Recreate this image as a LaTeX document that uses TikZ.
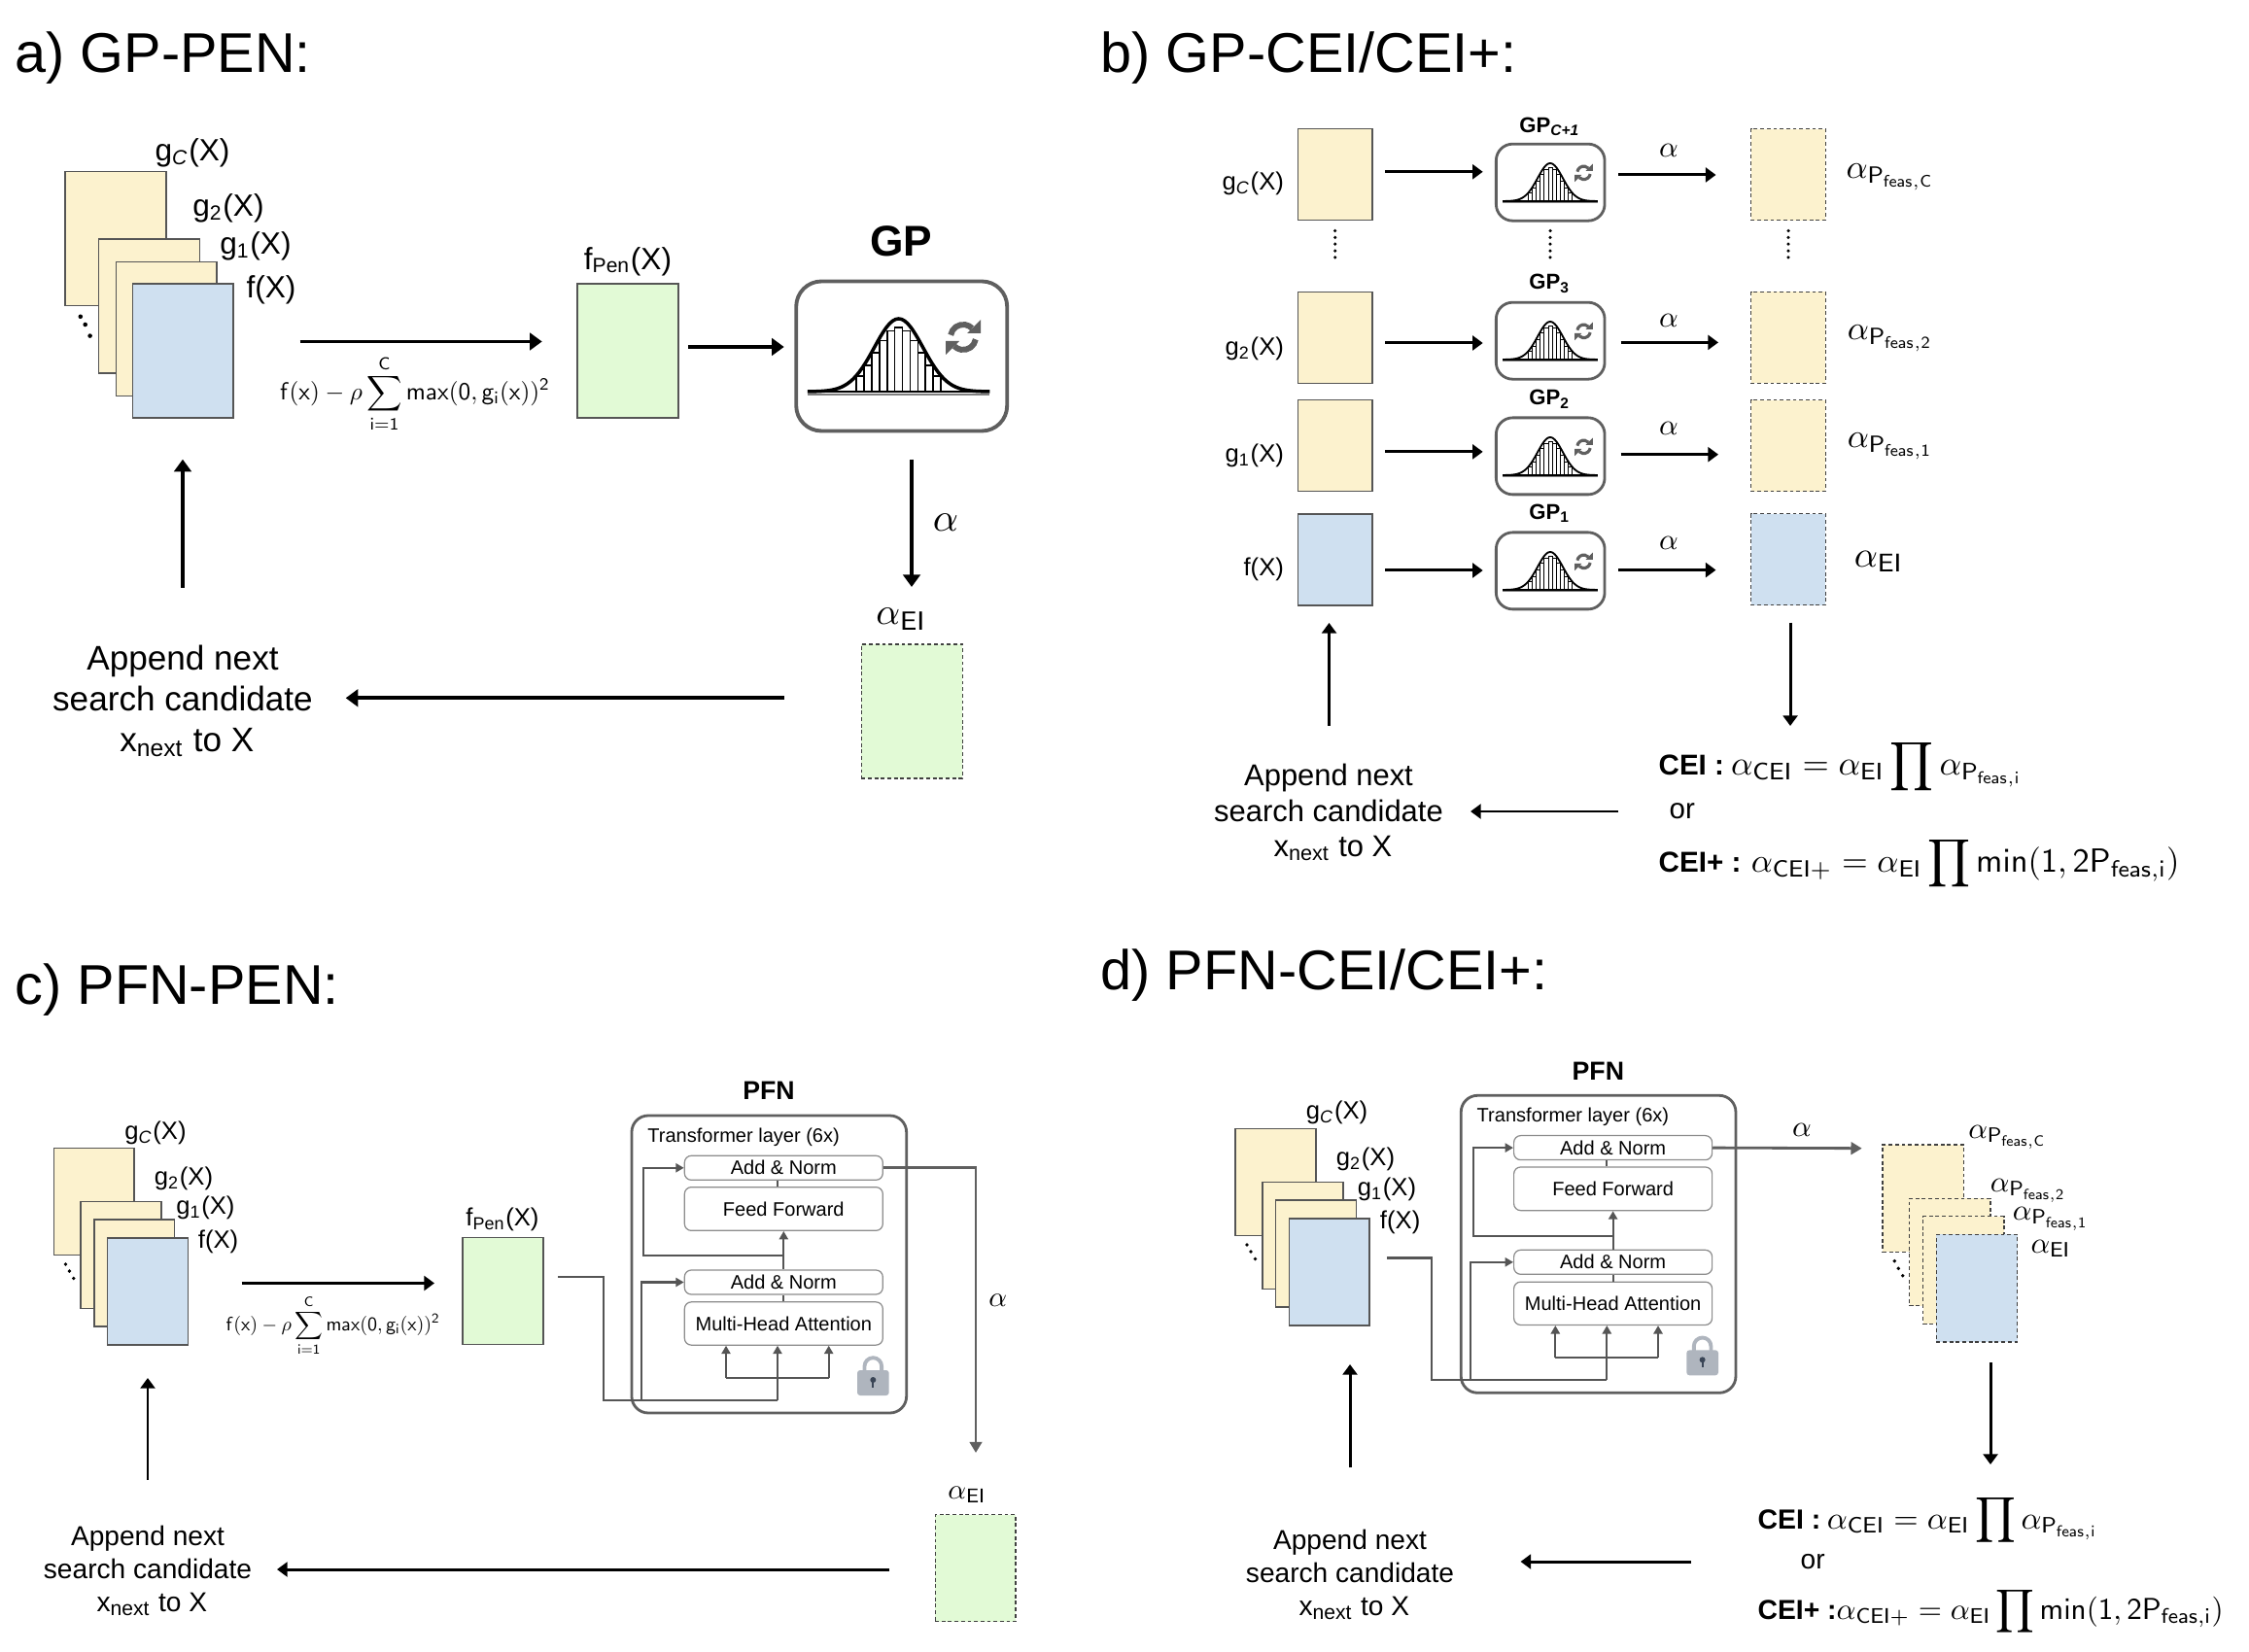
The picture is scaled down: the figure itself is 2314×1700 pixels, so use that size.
\documentclass[tikz,border=0pt]{standalone}
\usepackage[no-math]{fontspec}
\setmainfont{Liberation Sans}
\usetikzlibrary{arrows.meta}

\definecolor{cyel}{HTML}{FCF2CE}
\definecolor{cblu}{HTML}{CFE0F0}
\definecolor{cgrn}{HTML}{E2FAD6}
\definecolor{clin}{HTML}{555555}
\definecolor{cgry}{HTML}{5F5F5F}
\definecolor{clok}{HTML}{AFB5BE}
\definecolor{ckey}{HTML}{3A4556}

\newcommand\aEI{\alpha_{\mathsf{EI}}}
\newcommand\aPf[1]{\alpha_{\mathsf{P}_{\mathsf{feas},\mathsf{#1}}}}
\newcommand\penform{$\displaystyle\mathsf{f}(\mathsf{x})-\rho\sum_{\mathsf{i}=\mathsf{1}}^{\mathsf{C}}\mathsf{max}(\mathsf{0},\mathsf{g}_{\mathsf{i}}(\mathsf{x}))^{\mathsf{2}}$}
\newcommand\boldpt{\fontsize{8.7}{10}\selectfont\bfseries}
\newcommand\appendtxt{Append next\\search candidate\\\hspace*{2.5pt}x\textsubscript{next} to X}

\tikzset{
  ptitle/.style={font=\fontsize{16.4}{19}\selectfont,anchor=base west,inner sep=0},
  lab/.style={font=\fontsize{#1}{#1}\selectfont,inner sep=0},
  para/.style 2 args={font=\fontsize{#1}{#2}\selectfont,align=center,inner sep=0},
  mlab/.style={scale=#1,inner sep=0},
  ceiform/.style={scale=#1,anchor=base west,inner sep=0},
  sheeta/.style={draw=clin,line width=.45pt,inner sep=0,minimum width=10.38mm,minimum height=13.8mm},
  sheetb/.style={draw=clin,line width=.45pt,inner sep=0,minimum width=7.66mm,minimum height=9.4mm},
  sheetc/.style={draw=clin,line width=.45pt,inner sep=0,minimum width=8.28mm,minimum height=11mm},
  dsh/.style={draw=black!75,line width=.35pt,dash pattern=on 1.1pt off .8pt},
  arra/.style={line width=1.1pt,-{Triangle[length=3.6pt,width=5pt]}},
  arrb/.style={line width=.85pt,-{Triangle[length=3pt,width=4.2pt]}},
  arrg/.style={draw=cgry,line width=.8pt,-{Triangle[length=3.2pt,width=3.6pt]}},
  inner/.style={draw=clin,line width=.6pt,-{Triangle[length=2.4pt,width=2.6pt]}},
  lnk/.style={draw=clin,line width=.6pt},
  gpbox/.style={draw=cgry,rounded corners=1.7mm,inner sep=0,line width=.8pt,minimum width=11.17mm,minimum height=7.9mm},
  laybox/.style={draw=black!45,line width=.35pt,rounded corners=.7mm,inner sep=0,minimum width=20.4mm,font=\fontsize{5.7}{6}\selectfont},
  vdots/.style={line width=1pt,line cap=round,dash pattern=on 0pt off 1.95pt},
  pics/gausshist/.style={code={
    \begin{scope}[scale=#1]
    \foreach \k in {-5,...,5} {
      \pgfmathsetmacro\bh{66*exp(0-(\k*\k*62)/1100)}
      \draw[line width=#1*.45pt] (\k*7.9-3.95,0) rectangle (\k*7.9+3.95,-\bh);
    }
    \draw[line width=#1*1pt] plot[domain=-93.7:93.7,samples=61] (\x,{-75*exp(0-(\x*\x)/1250)});
    \draw[line width=#1*.8pt] (-93.7,0)--(93.7,0);
    \draw[gray,line width=.3pt] (-93.7,3)--(93.7,3);
    % sync mark
    \draw[cgry,line width=#1*1.7pt] (66.4,-56) ++(-170:13) arc(-170:-45:13);
    \fill[cgry] (84.4,-74) -- (84.4,-60) -- (70.4,-60) -- cycle;
    \draw[cgry,line width=#1*1.7pt] (66.4,-56) ++(10:13) arc(10:135:13);
    \fill[cgry] (48.4,-38) -- (48.4,-52) -- (62.4,-52) -- cycle;
    \end{scope}
  }},
  pics/pfnblock/.style={code={
    \node[font=\fontsize{7.6}{9}\selectfont\bfseries,inner sep=0] (head) at (141,-25.3) {PFN};
    \node[draw=cgry,line width=.8pt,rounded corners=1.7mm,minimum width=28.27mm,minimum height=30.6mm] (outer) at (141.3,153) {};
    \node[font=\fontsize{5.7}{6}\selectfont,anchor=west,inner sep=0] (tlayer) at (15.7,22) {Transformer layer (6x)};
    \node[laybox,minimum height=2.5mm] (add1) at (156.3,53.8) {Add \& Norm};
    \node[laybox,minimum height=4.47mm] (ff) at (156.3,96) {Feed Forward};
    \node[laybox,minimum height=2.5mm] (add2) at (156.3,171.5) {Add \& Norm};
    \node[laybox,minimum height=4.43mm] (mha) at (156.3,214) {Multi-Head Attention};
    \coordinate (inl) at (97,270);
    \coordinate (inm) at (150,292.7);
    \coordinate (inr) at (202.7,270);
    \coordinate (bri) at (10,292.7);
    \coordinate (brk) at (156.3,144.3);
    \coordinate (brl) at (12.3,144.3);
    \draw[lnk] (mha.north) -- (add2.south);
    \draw[lnk] (inm |- ff.north) -- (inm |- add1.south);
    \draw[inner] (add2.north) -- (ff.south);
    \draw[inner] (brk) -- (brl) |- (add1.west);
    \draw[inner] (bri) |- (add2.west);
    \draw[inner] (inm) -- (inm |- mha.south);
    \draw[lnk] (inl) -- (inr);
    \draw[inner] (inl) -- (inl |- mha.south);
    \draw[inner] (inr) -- (inr |- mha.south);
    % lock
    \draw[clok,line width=1.1pt] (239.5,264) -- (239.5,258) arc(180:360:8.8) -- (257.1,264);
    \fill[clok,rounded corners=.3mm] (232,262) rectangle (264.7,288);
    \fill[ckey] (248.3,272) circle (3);
    \fill[ckey] (247.2,272) rectangle (249.4,279.5);
  }}
}

\begin{document}
\begin{tikzpicture}[x=.1mm,y=-.1mm]
\useasboundingbox (0,0) rectangle (2314,1700);

% panel a
\node[ptitle] (atitle) at (15,75) {a) GP-PEN:};
\node[sheeta,fill=cyel] (agc) at (118.9,245.7) {};
\node[sheeta,fill=cyel] (ag2) at (153.6,315.1) {};
\node[sheeta,fill=cyel] (ag1) at (171.2,338.4) {};
\node[sheeta,fill=cblu] (af) at (188.3,361.2) {};
\node[lab=9] (agcl) at (198,157.4) {g\textsubscript{\textit{C}}(X)};
\node[lab=9] (ag2l) at (235,214.8) {g\textsubscript{2}(X)};
\node[lab=9] (ag1l) at (263,253.8) {g\textsubscript{1}(X)};
\node[lab=9] (afl) at (279,298.3) {f(X)};
\fill (82.8,325.8) circle (2.3);
\fill (87.7,334) circle (2.3);
\fill (92.6,345.6) circle (2.3);
\coordinate (aa1) at (308.7,351.5);
\coordinate (aa2) at (557.7,351.5);
\draw[arra] (aa1) -- (aa2);
\node[mlab=.72] (aform) at (427,405) {\penform};
\node[sheeta,fill=cgrn] (afpen) at (646,361) {};
\node[lab=9] (afpenl) at (646,269) {f\textsubscript{Pen}(X)};
\coordinate (ab1) at (707.8,357);
\coordinate (ab2) at (806.7,357);
\draw[arra] (ab1) -- (ab2);
\node[font=\fontsize{12.6}{14}\selectfont\bfseries,inner sep=0] (agpl) at (927.4,247.8) {GP};
\node[draw=cgry,line width=1.1pt,rounded corners=2.6mm,minimum width=21.7mm,minimum height=15.4mm,inner sep=0] (agp) at (927.7,366.5) {};
\pic at (924.6,403) {gausshist=1};
\coordinate (ac1) at (938,472.7);
\coordinate (ac2) at (938,604);
\draw[arra] (ac1) -- (ac2);
\node[mlab=1.16] (aalpha) at (973,537.4) {$\alpha$};
\node[mlab=1.1] (aeil) at (927.4,637) {$\aEI$};
\node[sheeta,fill=cgrn,dsh] (aei) at (938.2,732) {};
\coordinate (ad1) at (806.7,718.3);
\coordinate (ad2) at (355.7,718.3);
\draw[arra] (ad1) -- (ad2);
\node[para={10}{12}] (aappend) at (188,721.5) {\appendtxt};
\coordinate (ae1) at (188,605);
\coordinate (ae2) at (188,472.7);
\draw[arra] (ae1) -- (ae2);

% panel b
\node[ptitle] (btitle) at (1132,75) {b) GP-CEI/CEI+:};
\node[sheetb,fill=cyel] (bgc) at (1373.7,179.7) {};
\node[sheetb,fill=cyel] (bg2) at (1373.7,347.5) {};
\node[sheetb,fill=cyel] (bg1) at (1373.7,458.6) {};
\node[sheetb,fill=cblu] (bf) at (1373.7,575.8) {};
\node[lab=7.3,anchor=east] (bgcl) at (1321.6,189) {g\textsubscript{\textit{C}}(X)};
\node[lab=7.3,anchor=east] (bg2l) at (1321.6,359) {g\textsubscript{2}(X)};
\node[lab=7.3,anchor=east] (bg1l) at (1321.6,469) {g\textsubscript{1}(X)};
\node[lab=7.3,anchor=east] (bfl) at (1321.6,585.5) {f(X)};
\node[gpbox] (bgpc) at (1595.2,187.7) {};
\node[gpbox] (bgp3) at (1595.2,350.7) {};
\node[gpbox] (bgp2) at (1595.2,469.4) {};
\node[gpbox] (bgp1) at (1595.2,587.4) {};
\pic at (1595,207) {gausshist=.52};
\pic at (1595,370) {gausshist=.52};
\pic at (1595,489) {gausshist=.52};
\pic at (1595,607) {gausshist=.52};
\node[font=\fontsize{6.3}{7}\selectfont\bfseries,inner sep=0] (bgpcl) at (1594.6,130.3) {GP\textsubscript{\textit{C+1}}};
\node[font=\fontsize{6.3}{7}\selectfont\bfseries,inner sep=0] (bgp3l) at (1594.6,291.7) {GP\textsubscript{3}};
\node[font=\fontsize{6.3}{7}\selectfont\bfseries,inner sep=0] (bgp2l) at (1594.6,410.6) {GP\textsubscript{2}};
\node[font=\fontsize{6.3}{7}\selectfont\bfseries,inner sep=0] (bgp1l) at (1594.6,528.4) {GP\textsubscript{1}};
\node[sheetb,fill=cyel,dsh] (brc) at (1839.8,179.7) {};
\node[sheetb,fill=cyel,dsh] (br2) at (1839.8,347.5) {};
\node[sheetb,fill=cyel,dsh] (br1) at (1839.8,458.6) {};
\node[sheetb,fill=cblu,dsh] (bri) at (1839.8,575.8) {};
\coordinate (bla) at (1425,176.8);
\coordinate (blb) at (1525.7,176.8);
\draw[arrb] (bla) -- (blb);
\coordinate (blc) at (1425,353);
\coordinate (bld) at (1525.7,353);
\draw[arrb] (blc) -- (bld);
\coordinate (ble) at (1425,464.9);
\coordinate (blf) at (1525.7,464.9);
\draw[arrb] (ble) -- (blf);
\coordinate (blg) at (1425,587);
\coordinate (blh) at (1525.7,587);
\draw[arrb] (blg) -- (blh);
\coordinate (bra) at (1665,180);
\coordinate (brb) at (1765.5,180);
\draw[arrb] (bra) -- (brb);
\coordinate (brcc) at (1667.5,352.4);
\coordinate (brd) at (1768,352.4);
\draw[arrb] (brcc) -- (brd);
\coordinate (bre) at (1667.5,467.7);
\coordinate (brf) at (1768,467.7);
\draw[arrb] (bre) -- (brf);
\coordinate (brg) at (1665,586.6);
\coordinate (brh) at (1765.5,586.6);
\draw[arrb] (brg) -- (brh);
\node[mlab=.87] (bac) at (1717,154.6) {$\alpha$};
\node[mlab=.87] (ba3) at (1717,330) {$\alpha$};
\node[mlab=.87] (ba2) at (1717,441) {$\alpha$};
\node[mlab=.87] (ba1) at (1717,558.7) {$\alpha$};
\node[mlab=.98] (bpc) at (1945,182) {$\aPf{C}$};
\node[mlab=.98] (bp2) at (1945,348) {$\aPf{2}$};
\node[mlab=.98] (bp1) at (1945,459) {$\aPf{1}$};
\node[mlab=1.07] (bei) at (1933,578) {$\aEI$};
\draw[vdots] (1373.7,237.5) -- (1373.7,271.4);
\draw[vdots] (1595,237.5) -- (1595,271.4);
\draw[vdots] (1840,237.5) -- (1840,271.4);
\coordinate (bdn1) at (1842,640.6);
\coordinate (bdn2) at (1842,747);
\draw[arrb] (bdn1) -- (bdn2);
\node[ceiform=1] (bcei) at (1706,797.7) {{\fontsize{8.4}{10}\selectfont\bfseries CEI :}\hspace{.2em}$\displaystyle\alpha_{\mathsf{CEI}}=\aEI\prod\aPf{i}$};
\node[font=\fontsize{8.4}{10}\selectfont,anchor=west,inner sep=0] (bor) at (1717,835) {or};
\node[ceiform=.98] (bceip) at (1706,897) {{\fontsize{8.6}{10}\selectfont\bfseries CEI+ :}\hspace{.3em}$\displaystyle\alpha_{\mathsf{CEI+}}=\aEI\prod\mathsf{min}(\mathsf{1},\mathsf{2P}_{\mathsf{feas},\mathsf{i}})$};
\coordinate (bl1) at (1665,835);
\coordinate (bl2) at (1513,835);
\draw[arrb] (bl1) -- (bl2);
\node[para={8.8}{10.4}] (bappend) at (1367,836) {\appendtxt};
\coordinate (bu1) at (1367.5,747);
\coordinate (bu2) at (1367.5,641);
\draw[arrb] (bu1) -- (bu2);

% panel c
\node[ptitle] (ctitle) at (15,1033) {c) PFN-PEN:};
\node[sheetc,fill=cyel] (cgc) at (96.8,1236.5) {};
\node[sheetc,fill=cyel] (cg2) at (124.5,1291.7) {};
\node[sheetc,fill=cyel] (cg1) at (138.2,1310) {};
\node[sheetc,fill=cblu] (cf) at (151.9,1328.9) {};
\node[lab=7.3] (cgcl) at (160,1166) {g\textsubscript{\textit{C}}(X)};
\node[lab=7.3] (cg2l) at (189,1213) {g\textsubscript{2}(X)};
\node[lab=7.3] (cg1l) at (211.4,1243) {g\textsubscript{1}(X)};
\node[lab=7.3] (cfl) at (224.6,1278) {f(X)};
\fill (67.5,1301) circle (1.9);
\fill (71.4,1308) circle (1.9);
\fill (75.7,1315.5) circle (1.9);
\coordinate (ca1) at (248.5,1320.5);
\coordinate (ca2) at (447,1320.5);
\draw[arrb] (ca1) -- (ca2);
\node[mlab=.57] (cform) at (342.7,1364) {\penform};
\node[sheetc,fill=cgrn] (cfpen) at (517.5,1328.4) {};
\node[lab=7.3] (cfpenl) at (517,1255) {f\textsubscript{Pen}(X)};
\pic (pfnc) at (650,1148) {pfnblock};
\coordinate (cin) at (574,1314.3);
\draw[lnk] (cin) -- (620.7,1314.3) |- (pfncinm);
\coordinate (cout) at (1004,1495);
\draw[arrg] (pfncadd1.east) -| (cout);
\node[mlab=.83] (calpha) at (1026.7,1338) {$\alpha$};
\node[mlab=.83] (ceil) at (995,1538) {$\aEI$};
\node[sheetc,fill=cgrn,dsh] (cei) at (1003.5,1613.7) {};
\coordinate (cl1) at (915,1615);
\coordinate (cl2) at (285,1615);
\draw[arrb] (cl1) -- (cl2);
\node[para={8}{9.7}] (cappend) at (152,1616) {\appendtxt};
\coordinate (cu1) at (152,1523);
\coordinate (cu2) at (152,1418);
\draw[arrb] (cu1) -- (cu2);

% panel d
\node[ptitle] (dtitle) at (1132,1018) {d) PFN-CEI/CEI+:};
\node[sheetc,fill=cyel] (dgc) at (1312.4,1216.6) {};
\node[sheetc,fill=cyel] (dg2) at (1340.3,1271.6) {};
\node[sheetc,fill=cyel] (dg1) at (1354,1290) {};
\node[sheetc,fill=cblu] (df) at (1367.7,1308.9) {};
\node[lab=7.3] (dgcl) at (1375.6,1145) {g\textsubscript{\textit{C}}(X)};
\node[lab=7.3] (dg2l) at (1405,1192.6) {g\textsubscript{2}(X)};
\node[lab=7.3] (dg1l) at (1427,1223.6) {g\textsubscript{1}(X)};
\node[lab=7.3] (dfl) at (1440.6,1257.5) {f(X)};
\fill (1283,1281) circle (1.9);
\fill (1287,1288) circle (1.9);
\fill (1291.4,1295.5) circle (1.9);
\pic (pfnd) at (1503.3,1127.3) {pfnblock};
\coordinate (din) at (1427,1294.5);
\draw[lnk] (din) -- (1473,1294.5) |- (pfndinm);
\coordinate (dout) at (1915.7,1181.7);
\draw[arrg] (pfndadd1.east) -- (dout);
\node[mlab=.87] (dalpha) at (1854,1162.7) {$\alpha$};
\node[sheetc,fill=cyel,dsh,minimum width=8.33mm,minimum height=11.05mm] (drc) at (1978.7,1233.2) {};
\node[sheetc,fill=cyel,dsh,minimum width=8.33mm,minimum height=11.05mm] (dr2) at (2006.3,1288.4) {};
\node[sheetc,fill=cyel,dsh,minimum width=8.33mm,minimum height=11.05mm] (dr1) at (2020.3,1307) {};
\node[sheetc,fill=cblu,dsh,minimum width=8.33mm,minimum height=11.05mm] (dri) at (2034,1325.7) {};
\node[mlab=.87] (dpc) at (2065.7,1170) {$\aPf{C}$};
\node[mlab=.87] (dp2) at (2087,1225) {$\aPf{2}$};
\node[mlab=.87] (dp1) at (2110,1254) {$\aPf{1}$};
\node[mlab=.87] (dei) at (2110,1285) {$\aEI$};
\fill (1949.3,1297.7) circle (1.9);
\fill (1953.3,1305.3) circle (1.9);
\fill (1957.7,1312.7) circle (1.9);
\coordinate (ddn1) at (2048,1402);
\coordinate (ddn2) at (2048,1507);
\draw[arrb] (ddn1) -- (ddn2);
\node[ceiform=.93] (dcei) at (1808,1573) {{\boldpt CEI :}\hspace{.2em}$\displaystyle\alpha_{\mathsf{CEI}}=\aEI\prod\aPf{i}$};
\node[font=\fontsize{8}{10}\selectfont,anchor=west,inner sep=0] (dor) at (1852,1607) {or};
\node[ceiform=.885] (dceip) at (1808,1666) {{\fontsize{9.1}{10}\selectfont\bfseries CEI+ :}$\displaystyle\alpha_{\mathsf{CEI+}}=\aEI\prod\mathsf{min}(\mathsf{1},\mathsf{2P}_{\mathsf{feas},\mathsf{i}})$};
\coordinate (dl1) at (1740,1607);
\coordinate (dl2) at (1564.5,1607);
\draw[arrb] (dl1) -- (dl2);
\node[para={8}{9.7}] (dappend) at (1389,1620) {\appendtxt};
\coordinate (du1) at (1389,1510);
\coordinate (du2) at (1389,1404);
\draw[arrb] (du1) -- (du2);

\end{tikzpicture}
\end{document}
